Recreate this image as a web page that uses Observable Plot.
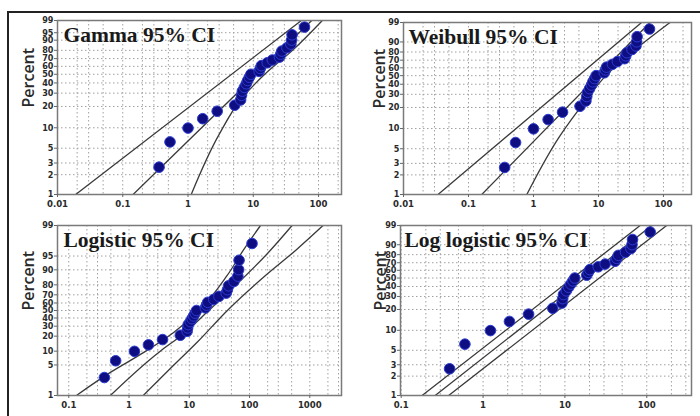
<!DOCTYPE html>
<html><head><meta charset="utf-8">
<script src="https://cdn.jsdelivr.net/npm/d3@7"></script>
<script src="https://cdn.jsdelivr.net/npm/@observablehq/plot@0.6"></script>
<style>
body{margin:0;background:#fff;}
#root{position:relative;width:700px;height:416px;background:#fff;overflow:hidden;}
.bl{position:absolute;background:#222;}
[aria-label$="tick label"]{font-stretch:condensed;}
</style></head>
<body><div id="root"><div class="bl" style="left:7px;top:11px;width:2px;height:405px"></div><div class="bl" style="left:7px;top:11px;width:693px;height:2px"></div></div>
<script>
// plotting positions (percent)
const pct = [2.6, 6.2, 9.9, 13.5, 17.2, 20.8, 24.5, 28.1, 31.8, 35.4, 39.1, 42.7, 46.4, 50.0, 53.6, 57.3, 60.9, 64.6, 68.2, 71.9, 75.5, 79.2, 82.8, 86.5, 90.1, 93.8, 97.4];
// observed values as placed in the two upper panels (Gamma, Weibull)
const xTop = [0.36, 0.53, 1.0, 1.68, 2.8, 5.2, 6.4, 6.6, 6.8, 7.3, 7.8, 8.2, 8.7, 9.2, 12.3, 12.8, 13.3, 16.4, 19.6, 25.2, 26.3, 27.4, 32.8, 37.7, 38.7, 39.3, 61];
// observed values as placed in the two lower panels (Logistic, Log logistic)
const xBottom = [0.39, 0.60, 1.23, 2.1, 3.6, 7.1, 9.2, 9.4, 9.6, 10.4, 11.1, 11.8, 12.5, 13.2, 18.5, 19.3, 20.2, 25.5, 31, 41, 43, 45, 55, 64, 66, 67, 110];

// fitted lines and 95% CI bounds: [value, percent]
const gammaUpper = [[0.019, 1], [54.6, 99]];
const gammaFit = [[0.144, 1], [78.6, 99]];
const gammaLower = [[1.12, 1], [3, 8], [6.5, 25], [15, 50], [40, 80], [114.5, 99]];
const weibullUpper = [[0.034, 1], [46, 99]];
const weibullFit = [[0.16, 1], [62, 99]];
const weibullLower = [[0.79, 1], [2.6, 8], [6.4, 25], [13, 50], [33, 80], [126, 99]];
const logisticUpper = [[0.134, 1], [0.49, 3.4], [1.76, 9.4], [5.5, 23.4], [15.3, 51.8], [42, 86.6], [80, 96.4], [152, 99]];
const logisticFit = [[0.49, 1], [3.3, 10], [7.6, 21], [19.8, 48], [54.8, 78], [195, 95.5], [509, 99]];
const logisticLower = [[1.72, 1], [4.8, 4.1], [13.5, 15.2], [45, 51.8], [180, 86.6], [600, 96.4], [1663, 99]];
const loglogUpper = [[0.18, 1], [83, 99]];
const loglogFit = [[0.26, 1], [115, 99]];
const loglogLower = [[0.38, 1], [175, 99]];

// tick labels
const xTicksTop = [0.01, 0.1, 1, 10, 100];
const xTicksLogistic = [0.1, 1, 10, 100, 1000];
const xTicksLoglog = [0.1, 1, 10, 100];
const yTicksGamma = [1, 2, 3, 5, 10, 20, 30, 40, 50, 60, 70, 80, 90, 95, 99];
const yTicksWeibull = [1, 2, 3, 5, 10, 20, 30, 40, 50, 60, 70, 80, 90, 99];
const yTicksLogistic = [1, 5, 10, 20, 30, 40, 50, 60, 70, 80, 90, 95, 99];
const yTicksLoglog = [1, 2, 3, 5, 10, 20, 30, 40, 50, 60, 70, 80, 90, 99];
const gridMults = [1, 2, 3, 5];

const weib = p => Math.log(-Math.log(1 - p / 100));
const logit = p => Math.log(p / (100 - p));

const tickFont = "DejaVu Sans";
function panel(o) {
  const pts = o.xs.map((x, i) => ({x, y: o.tf(pct[i])}));
  const lineData = o.lines.flatMap((ln, k) => ln.map(([x, p]) => ({x, y: o.tf(p), k})));
  const gx = [];
  for (let e = -3; e <= 4; e++) for (const m of gridMults) {
    const v = m * Math.pow(10, e);
    if (v > o.xDomain[0] * 1.01 && v < o.xDomain[1] * 0.99) gx.push(v);
  }
  const gy = o.yTicks.filter(p => p > 1 && p < 99).map(o.tf);
  const labelOf = d => { const p = o.yTicks.find(t => Math.abs(o.tf(t) - d) < 1e-9); return p === undefined ? "" : String(p); };
  const svg = Plot.plot({
    width: o.width, height: o.height,
    marginLeft: o.ml, marginRight: o.mr, marginTop: o.mt, marginBottom: o.mb,
    style: {background: "transparent", overflow: "visible"},
    x: {type: "log", domain: o.xDomain},
    y: {type: "linear", domain: [o.tf(1), o.tf(99)]},
    marks: [
      Plot.ruleX(gx, {stroke: "#a0a0a0", strokeDasharray: "1.5,2.5", strokeWidth: 1}),
      Plot.ruleY(gy, {stroke: "#a0a0a0", strokeDasharray: "1.5,2.5", strokeWidth: 1}),
      Plot.text([o.title], {frameAnchor: "top-left", text: d => d, textAnchor: "start", lineAnchor: "top", dx: o.tdx, dy: 6, fontSize: o.tfs, fontWeight: "bold", fontFamily: "Liberation Serif", fill: "#1a1a1a"}),
      Plot.line(lineData, {x: "x", y: "y", z: "k", stroke: "#3a3a3a", strokeWidth: 1.3, curve: "monotone-y", clip: true}),
      Plot.dot(pts, {x: "x", y: "y", r: 5.3, fill: "#0e0e82", stroke: "#2c3ccf", strokeWidth: 1}),
      Plot.frame({stroke: "#7a7a7a", strokeWidth: 1.5}),
      Plot.axisX({ticks: o.xTicks, tickFormat: d => String(d), tickSize: 3, tickPadding: 3, fontSize: 9.5, fontWeight: "bold", fontFamily: tickFont, fill: "#2a2a2a", stroke: "#666", label: null}),
      Plot.axisY({ticks: o.yTicks.map(o.tf), tickFormat: labelOf, tickSize: 3, tickPadding: 1, fontSize: 9, fontWeight: "bold", fontFamily: tickFont, fill: "#2a2a2a", stroke: "#666", label: null}),
      Plot.text(["Percent"], {frameAnchor: "left", text: d => d, rotate: -90, dx: o.pdx, fontSize: 16, fontWeight: 600, fontFamily: "Open Sans", fill: "#2a2a2a"})
    ]
  });
  svg.style.position = "absolute";
  svg.style.left = o.left + "px";
  svg.style.top = o.top + "px";
  document.getElementById("root").appendChild(svg);
}

panel({left: 0, top: 0, width: 350, height: 210, ml: 57, mr: 9, mt: 20, mb: 16, xDomain: [0.01, 225], xTicks: xTicksTop, tf: weib, yTicks: yTicksGamma, xs: xTop, title: "Gamma 95% CI", tdx: 6, tfs: 21.5, pdx: -29,
  lines: [gammaUpper, gammaFit, gammaLower]});
panel({left: 350, top: 0, width: 350, height: 210, ml: 53, mr: 9, mt: 22, mb: 16, xDomain: [0.01, 270], xTicks: xTicksTop, tf: weib, yTicks: yTicksWeibull, xs: xTop, title: "Weibull 95% CI", tdx: 5, tfs: 21.5, pdx: -24,
  lines: [weibullUpper, weibullFit, weibullLower]});
panel({left: 0, top: 210, width: 350, height: 206, ml: 57, mr: 9, mt: 15, mb: 21, xDomain: [0.065, 3360], xTicks: xTicksLogistic, tf: logit, yTicks: yTicksLogistic, xs: xBottom, title: "Logistic 95% CI", tdx: 6, tfs: 21.5, pdx: -29,
  lines: [logisticUpper, logisticFit, logisticLower]});
panel({left: 350, top: 210, width: 350, height: 206, ml: 50, mr: 9, mt: 15, mb: 21, xDomain: [0.098, 352], xTicks: xTicksLoglog, tf: weib, yTicks: yTicksLoglog, xs: xBottom, title: "Log logistic 95% CI", tdx: 4, tfs: 21.5, pdx: -20,
  lines: [loglogUpper, loglogFit, loglogLower]});
</script></body></html>
